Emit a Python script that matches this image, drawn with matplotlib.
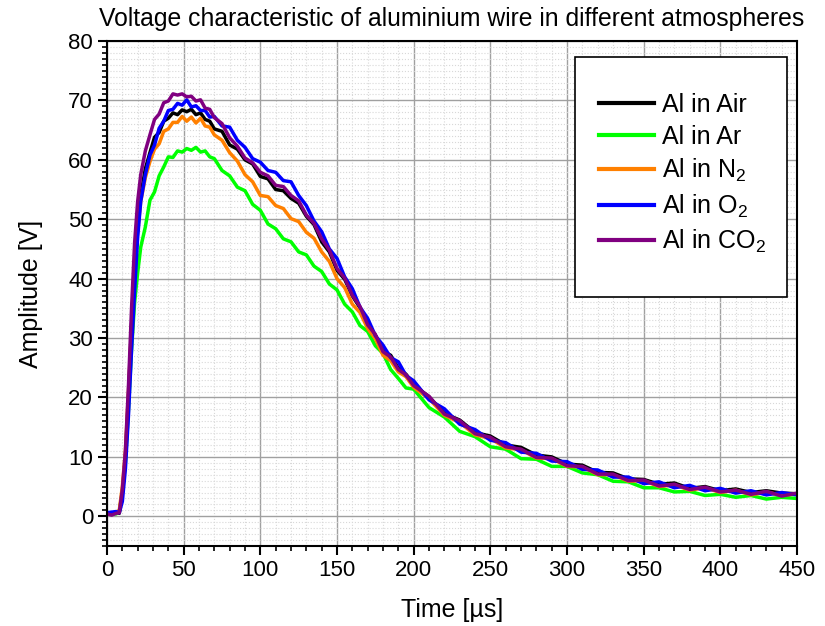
import matplotlib.pyplot as plt
from matplotlib.patches import Rectangle
from matplotlib.ticker import MultipleLocator

plt.rcParams['font.family'] = ['Liberation Sans', 'DejaVu Sans']
plt.rcParams['mathtext.fontset'] = 'custom'
plt.rcParams['mathtext.rm'] = 'Liberation Sans'
plt.rcParams['mathtext.it'] = 'Liberation Sans'

# Time axis in microseconds (shared by all measurements)
time_us = [0, 3, 6, 8, 10, 12, 14, 16, 18, 20, 22, 25, 28, 31, 34, 37, 40, 43, 46, 49,
           52, 55, 58, 61, 64, 67, 70, 75, 80, 85, 90, 95, 100, 105, 110, 115, 120, 125,
           130, 135, 140, 145, 150, 155, 160, 165, 170, 175, 180, 185, 190, 195, 200,
           210, 220, 230, 240, 250, 260, 270, 280, 290, 300, 310, 320, 330, 340, 350,
           360, 370, 380, 390, 400, 410, 420, 430, 440, 450]

# Amplitude in volts for each atmosphere
al_air = [0.5, 0.3, 0.6, 0.5, 4, 10, 20, 32, 42, 49, 54, 58.5, 61.2, 63.8, 64.6, 66.5, 67.0, 67.9, 67.6, 68.4,
          68.1, 68.5, 67.6, 67.9, 66.8, 66.5, 65.2, 64.8, 62.5, 61.8, 60.0, 59.3, 57.2, 56.8, 55.0, 54.8, 53.5, 52.7,
          50.5, 49.1, 46.2, 44.5, 41.4, 39.9, 37.1, 35.1, 32.2, 30.5, 27.8, 27.1, 24.9, 23.9, 22.1,
          20.1, 17.3, 16.2, 14.1, 13.5, 12.0, 11.6, 10.3, 10.0, 8.8, 8.6, 7.4, 7.3, 6.3, 6.2,
          5.4, 5.6, 4.7, 5.0, 4.3, 4.6, 4.0, 4.3, 3.9, 3.8]

al_ar = [0.3, 0.5, 0.4, 0.8, 4, 9, 18, 28, 36, 41, 45.3, 48.7, 53.2, 54.6, 57.3, 58.8, 60.5, 60.4, 61.5, 61.3,
         61.9, 61.6, 62.1, 61.3, 61.5, 60.5, 60.2, 58.2, 57.3, 55.4, 54.8, 52.5, 51.5, 49.2, 48.4, 46.7, 46.2, 44.5,
         44.0, 42.1, 41.2, 39.1, 38.1, 35.7, 34.4, 32.1, 31.1, 28.7, 27.4, 24.7, 23.2, 21.6, 21.4,
         18.3, 16.7, 14.3, 13.4, 11.7, 11.3, 9.7, 9.6, 8.4, 8.4, 7.3, 7.0, 5.9, 5.8, 4.8,
         4.8, 4.1, 4.2, 3.5, 3.7, 3.2, 3.5, 2.9, 3.2, 3.0]

al_n2 = [0.5, 0.4, 0.7, 1.0, 5, 11, 21, 32, 41, 48, 53, 57, 59.7, 61.8, 62.7, 64.8, 65.2, 66.3, 66.3, 67.3,
         66.5, 67.2, 66.2, 67.0, 65.7, 65.5, 64.2, 63.3, 61.2, 59.8, 57.5, 56.3, 54.0, 53.8, 52.3, 51.8, 50.1, 49.6,
         47.8, 46.8, 44.5, 42.9, 40.0, 38.5, 35.7, 34.3, 31.6, 29.9, 27.1, 26.2, 24.3, 23.5, 21.7,
         19.8, 17.0, 15.8, 13.7, 13.1, 11.5, 11.2, 9.8, 9.7, 8.4, 8.3, 7.0, 7.0, 5.9, 6.0,
         5.0, 5.3, 4.4, 4.8, 4.0, 4.4, 3.6, 4.1, 3.5, 3.8]

al_o2 = [0.6, 0.7, 0.8, 0.6, 2.5, 8, 17, 28, 38, 47, 53, 57.5, 60.8, 62.5, 65.3, 66.5, 68.3, 68.5, 69.5, 69.2,
         70.1, 68.9, 69.1, 68.3, 68.3, 67.2, 67.3, 65.7, 65.5, 63.3, 62.1, 60.2, 59.6, 58.2, 57.9, 56.5, 56.3, 54.0,
         52.3, 49.7, 47.9, 45.0, 43.4, 40.3, 38.3, 35.2, 33.3, 30.4, 28.8, 26.7, 26.0, 23.7, 22.8,
         19.6, 18.1, 15.5, 14.6, 12.8, 12.4, 10.8, 10.6, 9.3, 9.2, 7.9, 7.8, 6.6, 6.6, 5.5,
         5.8, 4.8, 5.2, 4.3, 4.7, 3.9, 4.3, 3.6, 4.0, 3.6]

al_co2 = [0.4, 0.2, 0.5, 0.6, 4.5, 11, 22, 35, 46, 53, 57.5, 61.5, 64.2, 66.8, 67.7, 69.6, 69.9, 71.1, 70.9, 71.1,
          70.6, 70.7, 69.9, 70.1, 68.7, 68.5, 67.1, 66.1, 63.7, 62.3, 60.3, 59.5, 57.9, 57.3, 55.7, 55.5, 54.0, 53.1,
          50.7, 49.3, 46.7, 44.8, 41.7, 40.1, 37.2, 35.3, 32.2, 30.6, 27.7, 26.8, 24.7, 23.8, 22.0,
          20.2, 17.2, 16.1, 13.9, 13.3, 11.7, 11.3, 9.9, 9.8, 8.5, 8.4, 7.1, 7.1, 6.0, 6.1,
          5.1, 5.4, 4.5, 4.9, 4.1, 4.4, 3.7, 4.2, 3.4, 3.9]

# Plotting
fig = plt.figure(figsize=(8.25, 6.26), dpi=100)
ax = fig.add_axes([0.1297, 0.1278, 0.8364, 0.8067])

ax.plot(time_us, al_air, color='black', linewidth=2.5, label='Al in Air')
ax.plot(time_us, al_ar, color='#00ff00', linewidth=2.5, label='Al in Ar')
ax.plot(time_us, al_n2, color='#ff8000', linewidth=2.5, label='Al in N$_2$')
ax.plot(time_us, al_o2, color='#0000ff', linewidth=2.5, label='Al in O$_2$')
ax.plot(time_us, al_co2, color='#800080', linewidth=2.5, label='Al in CO$_2$')

ax.set_xlim(0, 450)
ax.set_ylim(-5, 80)
ax.xaxis.set_major_locator(MultipleLocator(50))
ax.xaxis.set_minor_locator(MultipleLocator(10))
ax.yaxis.set_major_locator(MultipleLocator(10))
ax.yaxis.set_minor_locator(MultipleLocator(1))

ax.tick_params(which='major', direction='out', length=6.5, width=1.5, labelsize=16)
ax.tick_params(which='minor', direction='out', length=3.5, width=1.2)
for side in ax.spines.values():
    side.set_linewidth(1.5)

# Grid lines
ax.grid(True, which='major', color='#a0a0a0', linewidth=1.0)
ax.grid(True, which='minor', color='#d8d8d8', linestyle=':', linewidth=0.8)
ax.set_axisbelow(True)

ax.set_xlabel('Time [µs]', fontsize=18, labelpad=12)
ax.set_ylabel('Amplitude [V]', fontsize=18, labelpad=18)
ax.set_title('Voltage characteristic of aluminium wire in different atmospheres', fontsize=17.8, pad=11)

# Legend box drawn separately so the padding can be taller than it is wide
ax.add_patch(Rectangle((0.678, 0.493), 0.3075, 0.475, transform=ax.transAxes,
                       facecolor='white', edgecolor='black', linewidth=1.2, zorder=5))
leg = ax.legend(loc='upper left', bbox_to_anchor=(0.713, 0.898), fontsize=18, frameon=False,
                borderpad=0, labelspacing=0.33, handlelength=2.2, handletextpad=0.32,
                borderaxespad=0)
leg.set_zorder(6)
for line in leg.get_lines():
    line.set_linewidth(3)

plt.savefig('out.png', dpi=100)
